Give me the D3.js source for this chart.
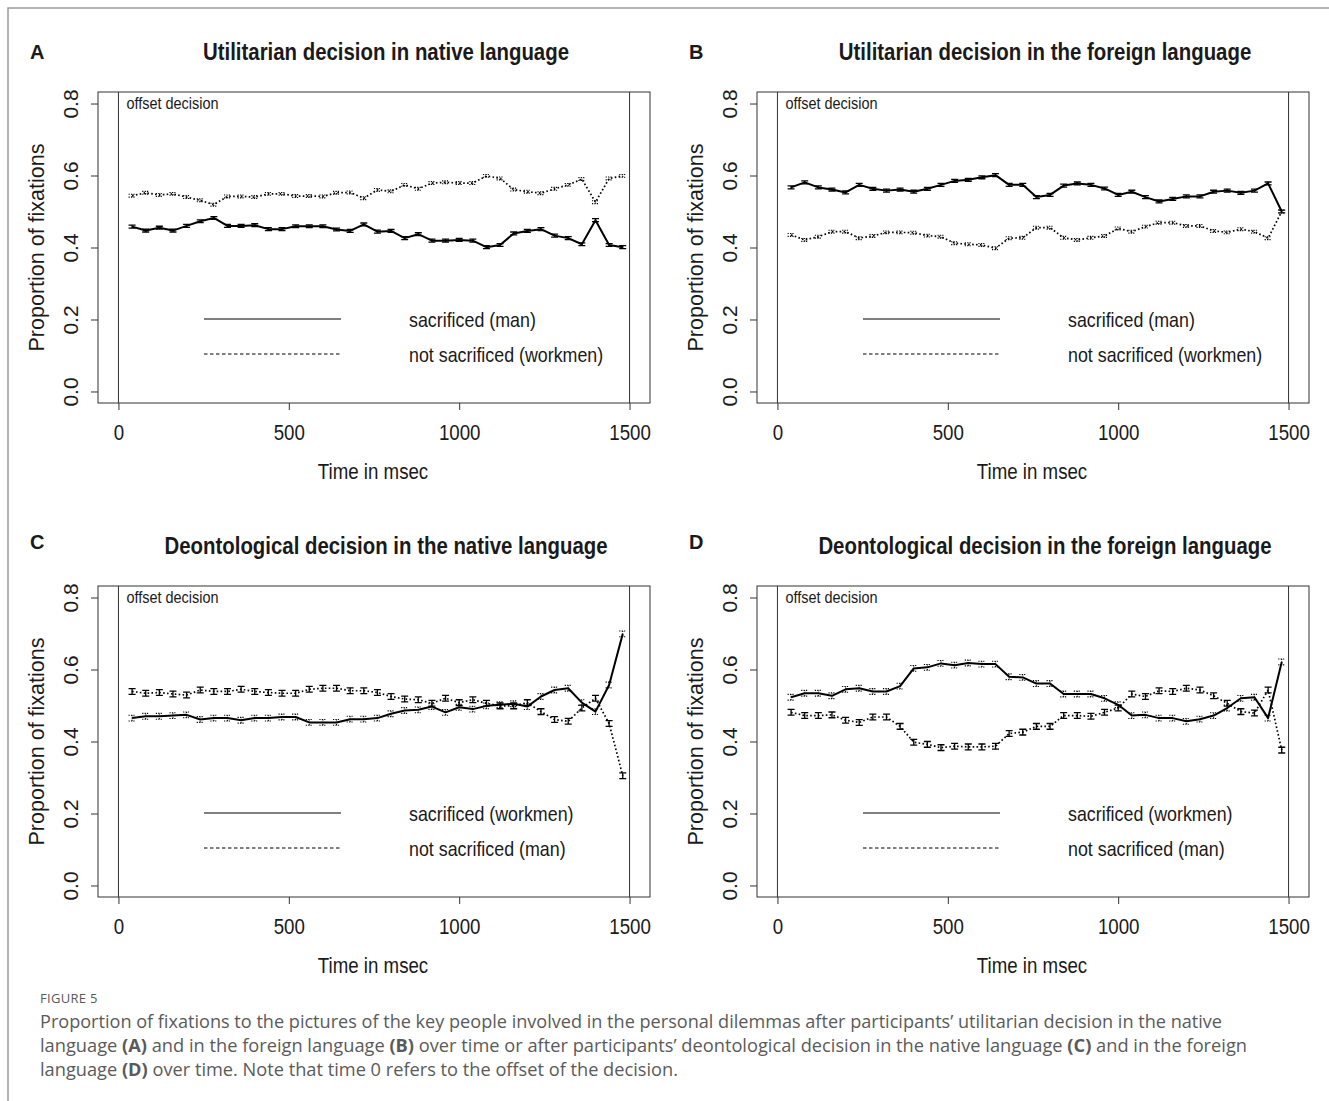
<!DOCTYPE html>
<html>
<head>
<meta charset="utf-8">
<script src="https://cdn.jsdelivr.net/npm/d3@7"></script>
<style>
    body { margin: 0; background: #fff; }
    svg text { font-family: "Liberation Sans", Arial, sans-serif; fill: #1a1a1a; }
    .caption text { font-family: "Open Sans", "Noto Sans", sans-serif; fill: #5a5a5a; }
</style>
</head>
<body>
<svg id="chart" width="1329" height="1101"></svg>
<script>
// time bins (msec after decision offset)
const times = [40, 80, 120, 160, 200, 240, 280, 320, 360, 400, 440, 480, 520, 560, 600, 640, 680, 720, 760,
    800, 840, 880, 920, 960, 1000, 1040, 1080, 1120, 1160, 1200, 1240, 1280, 1320, 1360, 1400, 1440, 1480];

const yTicks = [0, 0.2, 0.4, 0.6, 0.8];
const xTicks = [0, 500, 1000, 1500];

// A: utilitarian, native
const solidA = [0.458, 0.447, 0.455, 0.447, 0.460, 0.473, 0.482, 0.460, 0.460, 0.462, 0.451, 0.451, 0.459, 0.459, 0.459, 0.450, 0.446, 0.464, 0.444,
    0.446, 0.426, 0.437, 0.419, 0.419, 0.421, 0.419, 0.401, 0.407, 0.439, 0.446, 0.451, 0.433, 0.426, 0.409, 0.476, 0.407, 0.401];
const dashedA = [0.544, 0.552, 0.546, 0.549, 0.540, 0.531, 0.519, 0.542, 0.542, 0.540, 0.549, 0.549, 0.543, 0.543, 0.542, 0.552, 0.553, 0.537, 0.560,
    0.556, 0.574, 0.563, 0.579, 0.581, 0.579, 0.579, 0.599, 0.592, 0.561, 0.555, 0.551, 0.563, 0.574, 0.590, 0.526, 0.592, 0.599];

// B: utilitarian, foreign
const solidB = [0.567, 0.581, 0.567, 0.561, 0.553, 0.574, 0.563, 0.558, 0.561, 0.555, 0.563, 0.574, 0.585, 0.588, 0.595, 0.601, 0.574, 0.574, 0.540,
    0.546, 0.572, 0.578, 0.574, 0.564, 0.546, 0.555, 0.540, 0.528, 0.535, 0.542, 0.542, 0.555, 0.558, 0.552, 0.558, 0.578, 0.500];
const dashedB = [0.435, 0.421, 0.430, 0.444, 0.444, 0.426, 0.432, 0.442, 0.442, 0.441, 0.433, 0.430, 0.412, 0.409, 0.407, 0.398, 0.426, 0.427, 0.455,
    0.455, 0.427, 0.421, 0.427, 0.432, 0.453, 0.444, 0.458, 0.469, 0.469, 0.460, 0.460, 0.446, 0.442, 0.451, 0.444, 0.426, 0.500];

// C: deontological, native
const solidC = [0.465, 0.470, 0.470, 0.472, 0.474, 0.461, 0.465, 0.465, 0.459, 0.465, 0.465, 0.468, 0.468, 0.453, 0.453, 0.453, 0.462, 0.462, 0.465,
    0.477, 0.486, 0.488, 0.497, 0.481, 0.495, 0.490, 0.499, 0.502, 0.505, 0.497, 0.525, 0.543, 0.548, 0.508, 0.483, 0.557, 0.699];
const dashedC = [0.539, 0.534, 0.536, 0.532, 0.529, 0.543, 0.539, 0.539, 0.545, 0.539, 0.536, 0.534, 0.534, 0.545, 0.548, 0.548, 0.541, 0.541, 0.536,
    0.525, 0.518, 0.516, 0.506, 0.520, 0.508, 0.516, 0.506, 0.499, 0.499, 0.508, 0.483, 0.461, 0.456, 0.493, 0.520, 0.450, 0.305];

// D: deontological, foreign
const solidD = [0.523, 0.534, 0.534, 0.527, 0.545, 0.548, 0.539, 0.539, 0.554, 0.603, 0.606, 0.617, 0.612, 0.618, 0.615, 0.615, 0.580, 0.578, 0.561,
    0.561, 0.532, 0.532, 0.532, 0.520, 0.502, 0.472, 0.474, 0.465, 0.465, 0.456, 0.462, 0.472, 0.493, 0.520, 0.523, 0.465, 0.621];
const dashedD = [0.481, 0.472, 0.472, 0.474, 0.459, 0.453, 0.468, 0.468, 0.442, 0.398, 0.392, 0.383, 0.387, 0.385, 0.385, 0.387, 0.422, 0.426, 0.442,
    0.442, 0.472, 0.472, 0.470, 0.481, 0.493, 0.532, 0.525, 0.541, 0.539, 0.548, 0.543, 0.527, 0.506, 0.483, 0.479, 0.543, 0.376];

// standard error half-width per panel
const errA = 0.004, errB = 0.004, errC = 0.008, errD = 0.008;

const panels = [
    { letter: "A", title: "Utilitarian decision in native language", solid: solidA, dashed: dashedA, err: errA,
      labels: ["sacrificed (man)", "not sacrificed (workmen)"], left: 98, top: 92, letterY: -33, swapBars: false },
    { letter: "B", title: "Utilitarian decision in the foreign language", solid: solidB, dashed: dashedB, err: errB,
      labels: ["sacrificed (man)", "not sacrificed (workmen)"], left: 757, top: 92, letterY: -33, swapBars: false },
    { letter: "C", title: "Deontological decision in the native language", solid: solidC, dashed: dashedC, err: errC,
      labels: ["sacrificed (workmen)", "not sacrificed (man)"], left: 98, top: 586, letterY: -37, swapBars: true },
    { letter: "D", title: "Deontological decision in the foreign language", solid: solidD, dashed: dashedD, err: errD,
      labels: ["sacrificed (workmen)", "not sacrificed (man)"], left: 757, top: 586, letterY: -37, swapBars: true }
];

const boxW = 552, boxH = 311;
const squeeze = 0.85;   // the R text is rendered rather narrow

const svg = d3.select("#chart");

// figure frame
svg.append("path")
    .attr("d", "M8,1101 V8 H1329")
    .attr("fill", "none")
    .attr("stroke", "#9a9a9a")
    .attr("stroke-width", 1.5);

let x = d3.scaleLinear().domain([-60, 1560]).range([0, boxW]);
let y = d3.scaleLinear().domain([-0.032, 0.832]).range([boxH, 0]);

function narrowText(parent, tx, ty, str, size, weight, anchor) {
    return parent.append("text")
        .attr("transform", `translate(${tx},${ty}) scale(${squeeze},1)`)
        .attr("text-anchor", anchor || "start")
        .style("font-size", size + "px")
        .style("font-weight", weight || "normal")
        .text(str);
}

const solidStyle = { width: 2, dash: null };
const dottedStyle = { width: 1.7, dash: "1.6,2.3" };

panels.forEach((p) => {
    let g = svg.append("g").attr("transform", `translate(${p.left},${p.top})`);

    // panel letter and title
    g.append("text")
        .attr("x", -68).attr("y", p.letterY)
        .style("font-size", "20px")
        .style("font-weight", "bold")
        .text(p.letter);
    narrowText(g, boxW / 2 + 12, -32, p.title, 24, "bold", "middle");

    // y axis
    let yAxis = g.append("g")
        .call(d3.axisLeft(y).tickValues(yTicks).tickFormat(d3.format(".1f")).tickSize(7));
    yAxis.select(".domain").remove();
    yAxis.selectAll("line").attr("stroke", "#333");
    yAxis.selectAll("text")
        .attr("x", null).attr("dy", null)
        .attr("text-anchor", "middle")
        .attr("transform", "translate(-20,0) rotate(-90)")
        .style("font-size", "21px")
        .style("font-family", "Liberation Sans, Arial, sans-serif")
        .attr("fill", "#1a1a1a");

    // x axis
    let xAxis = g.append("g")
        .attr("transform", `translate(0,${boxH})`)
        .call(d3.axisBottom(x).tickValues(xTicks).tickFormat(d3.format("d")).tickSize(7).tickPadding(14));
    xAxis.select(".domain").remove();
    xAxis.selectAll("line").attr("stroke", "#333");
    xAxis.selectAll("text")
        .attr("transform", `scale(${squeeze},1)`)
        .style("font-size", "22px")
        .style("font-family", "Liberation Sans, Arial, sans-serif")
        .attr("fill", "#1a1a1a");

    // axis titles
    g.append("text")
        .attr("transform", `translate(-54,${boxH / 2}) rotate(-90)`)
        .attr("text-anchor", "middle")
        .style("font-size", "21.5px")
        .text("Proportion of fixations");
    narrowText(g, boxW / 2 - 1, boxH + 76, "Time in msec", 22, "normal", "middle");

    // plot box and time markers
    g.append("rect")
        .attr("width", boxW).attr("height", boxH)
        .attr("fill", "none").attr("stroke", "#333").attr("stroke-width", 1);
    [0, 1500].forEach((t) => {
        g.append("line")
            .attr("x1", x(t)).attr("x2", x(t))
            .attr("y1", 0).attr("y2", boxH)
            .attr("stroke", "#333").attr("stroke-width", 1);
    });
    narrowText(g, x(0) + 8, 17, "offset decision", 17, "normal");

    // series
    let series = [
        { values: p.solid, line: solidStyle, bars: p.swapBars ? dottedStyle : solidStyle },
        { values: p.dashed, line: dottedStyle, bars: p.swapBars ? solidStyle : dottedStyle }
    ];
    series.forEach((s) => {
        let pts = times.map((t, i) => ({ t: t, v: s.values[i] }));

        g.append("path")
            .datum(pts)
            .attr("fill", "none")
            .attr("stroke", "#000")
            .attr("stroke-width", s.line.width)
            .attr("stroke-dasharray", s.line.dash)
            .attr("stroke-linejoin", "round")
            .attr("d", d3.line().x((d) => x(d.t)).y((d) => y(d.v)));

        // error bars
        let bars = g.append("g")
            .attr("stroke", "#000")
            .attr("stroke-width", s.bars === solidStyle ? 1.3 : 1.1)
            .attr("stroke-dasharray", s.bars.dash ? "1.2,1.2" : null);
        pts.forEach((d) => {
            let cx = x(d.t);
            let y1 = y(d.v - p.err), y2 = y(d.v + p.err);
            bars.append("path")
                .attr("fill", "none")
                .attr("d", `M${cx},${y1}V${y2}M${cx - 3.5},${y1}H${cx + 3.5}M${cx - 3.5},${y2}H${cx + 3.5}`);
        });
    });

    // legend
    let legend = g.append("g").attr("transform", "translate(106,227)");
    legend.append("line")
        .attr("x1", 0).attr("x2", 137).attr("y1", 0).attr("y2", 0)
        .attr("stroke", "#000").attr("stroke-width", 1);
    legend.append("line")
        .attr("x1", 0).attr("x2", 137).attr("y1", 35).attr("y2", 35)
        .attr("stroke", "#000").attr("stroke-width", 1)
        .attr("stroke-dasharray", "3.5,2.5");
    narrowText(legend, 205, 8, p.labels[0], 21, "normal");
    narrowText(legend, 205, 43, p.labels[1], 21, "normal");
});

// caption
let caption = svg.append("g").attr("class", "caption");
caption.append("text")
    .attr("x", 40).attr("y", 1003)
    .style("font-size", "13px")
    .style("letter-spacing", "0.3px")
    .text("FIGURE 5");

const captionLines = [
    { y: 1028, width: 1182, parts: [["Proportion of fixations to the pictures of the key people involved in the personal dilemmas after participants’ utilitarian decision in the native", false]] },
    { y: 1052, width: 1207, parts: [["language ", false], ["(A)", true], [" and in the foreign language ", false], ["(B)", true],
        [" over time or after participants’ deontological decision in the native language ", false], ["(C)", true], [" and in the foreign", false]] },
    { y: 1076, width: 638, parts: [["language ", false], ["(D)", true], [" over time. Note that time 0 refers to the offset of the decision.", false]] }
];
captionLines.forEach((line) => {
    let t = caption.append("text")
        .attr("x", 40).attr("y", line.y)
        .attr("textLength", line.width)
        .attr("lengthAdjust", "spacingAndGlyphs")
        .style("font-size", "17.5px");
    line.parts.forEach(([str, bold]) => {
        t.append("tspan")
            .style("font-weight", bold ? "bold" : "normal")
            .text(str);
    });
});
</script>
</body>
</html>
